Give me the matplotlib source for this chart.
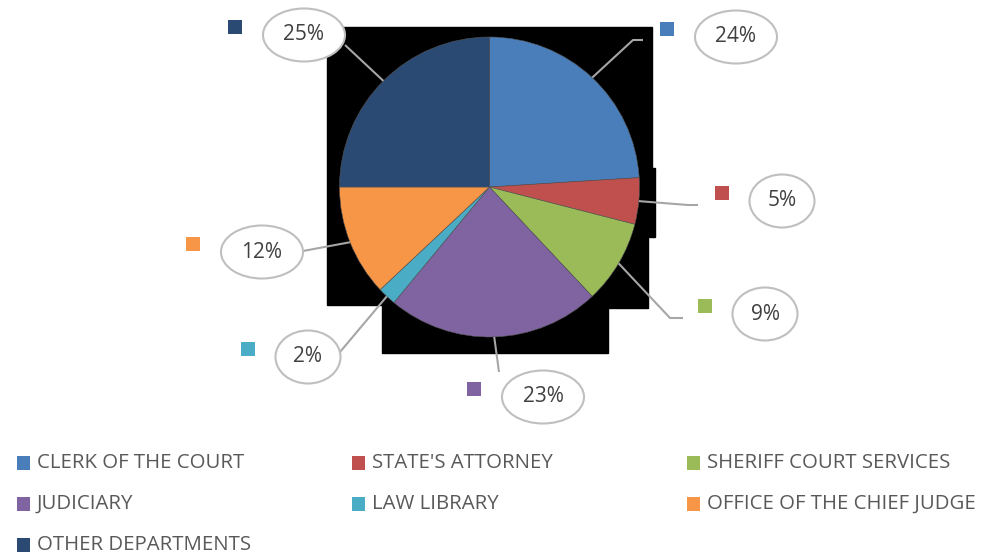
import math
import matplotlib
matplotlib.use('Agg')
import matplotlib.pyplot as plt
from matplotlib.patches import Ellipse, Rectangle, Polygon

# 数据
departments = ['CLERK OF THE COURT', "STATE'S ATTORNEY", 'SHERIFF COURT SERVICES',
               'JUDICIARY', 'LAW LIBRARY', 'OFFICE OF THE CHIEF JUDGE',
               'OTHER DEPARTMENTS']
shares = [24, 5, 9, 23, 2, 12, 25]
colors = ['#4A7EBB', '#C0504D', '#9BBB59', '#8064A2', '#4BACC6', '#F79646', '#2A4A73']

# 标签布局（像素坐标）
label_pos = [(736, 37), (782, 201), (765, 314), (543, 397), (308, 357), (262, 252), (304, 35)]
elbows = [[(633, 40), (643, 40)], [(688, 205), (698, 205)], [(670, 318), (683, 318)],
          [(499, 372)], [(340, 352)], [(303, 251)], [(345, 45)]]

plt.rcParams['font.family'] = ['Open Sans', 'DejaVu Sans']

fig = plt.figure(figsize=(9.95, 5.57), dpi=100)
ax = fig.add_axes([0, 0, 1, 1])

center = (489.5, 187)
radius = 150

# 背后的黑色块（原图渲染残影）
backdrop = [(327, 27), (652, 27), (652, 168), (655, 168), (655, 237), (648, 237),
            (648, 308), (608, 308), (608, 353), (382, 353), (382, 305), (327, 305)]
ax.add_patch(Polygon(backdrop, closed=True, color='black', zorder=0))

# 饼图（y轴反向，所以 startangle=-90 且逆时针）
wedges, _ = ax.pie(shares, colors=colors, startangle=-90, counterclock=True,
                   center=center, radius=radius, frame=True,
                   wedgeprops=dict(edgecolor='#555555', linewidth=0.4))
for w in wedges:
    w.set_zorder(2)
ax.set_xlim(0, 995)
ax.set_ylim(557, 0)
ax.set_aspect('equal')
ax.axis('off')

# 数据标签 + 引导线
for i, w in enumerate(wedges):
    ang = math.radians((w.theta1 + w.theta2) / 2)
    sx = center[0] + radius * math.cos(ang)
    sy = center[1] + radius * math.sin(ang)
    pts = [(sx, sy)] + elbows[i]
    ax.plot([p[0] for p in pts], [p[1] for p in pts], color='#A6A6A6', lw=1.5,
            zorder=3, solid_capstyle='butt')

    txt = f'{shares[i]}%'
    lx, ly = label_pos[i]
    ew = 31 + 17 * len(txt)
    ax.add_patch(Ellipse((lx, ly), ew, 53, facecolor='white', edgecolor='#BFBFBF',
                         lw=1.5, zorder=4))
    ax.text(lx, ly, txt, ha='center', va='center', fontsize=15, color='#404040', zorder=5)
    off = 69 if len(txt) == 3 else 60
    ax.add_patch(Rectangle((lx - off - 7, ly - 15), 14, 14, facecolor=colors[i],
                           edgecolor='none', zorder=5))

# 图例（手动排三列）
for i, name in enumerate(departments):
    row, col = divmod(i, 3)
    x = 17 + 335 * col
    y = 463 + 41 * row
    ax.add_patch(Rectangle((x, y - 7), 13, 14, facecolor=colors[i], edgecolor='none'))
    ax.text(x + 20, y, name, ha='left', va='center', fontsize=14.7, color='#595959')

fig.savefig('out.png', dpi=100)
